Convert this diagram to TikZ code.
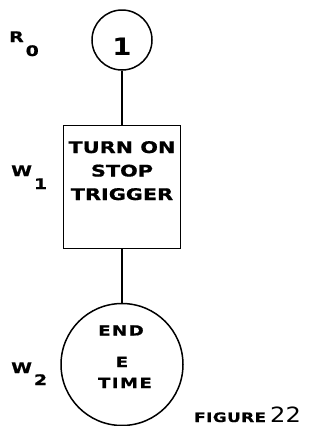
\documentclass[tikz,border=0pt]{standalone}
\usepackage{fontspec}
\newfontfamily\ext{DejaVu Sans}[FakeStretch=1.3,BoldFeatures={FakeBold=0.8}]
\newfontfamily\numfont{DejaVu Sans}[FakeStretch=1.15]
\tikzset{
  conn/.style={line width=1.5pt},
  shapebox/.style={draw,line width=1.5pt,inner sep=0pt},
  boxtext/.style={anchor=base,inner sep=0pt,font=\ext\bfseries\fontsize{16}{18}\selectfont},
  circtext/.style={anchor=base,inner sep=0pt,font=\ext\bfseries\fontsize{14}{16}\selectfont\addfontfeature{LetterSpace=10}},
  lbl/.style={anchor=base west,inner sep=0pt,font=\ext\bfseries\fontsize{14.5}{16}\selectfont},
}
\begin{document}
\begin{tikzpicture}[x=1pt,y=-1pt]
\useasboundingbox (0,0) rectangle (331,426);
% nodes
\node[shapebox,circle,minimum size=60pt] (start) at (122,40) {};
\node[anchor=base,inner sep=0pt,font=\numfont\bfseries\fontsize{24}{26}\selectfont] (one) at (122,55) {1};
\node[shapebox,rectangle,minimum width=117pt,minimum height=123pt] (box) at (122,187) {};
\node[boxtext] (t1) at (122,153) {TURN ON};
\node[boxtext] (t2) at (122,176.5) {STOP};
\node[boxtext] (t3) at (122,200) {TRIGGER};
\node[shapebox,circle,minimum size=122pt] (endc) at (122,364.5) {};
\node[circtext] (e1) at (121,335.5) {END};
\node[circtext] (e2) at (122,367) {E};
\node[circtext] (e3) at (125,388) {TIME};
% connectors
\draw[conn] (start.south) -- (box.north);
\draw[conn] (box.south) -- (endc.north);
% row labels
\node[lbl] (r0) at (9,42) {R\hspace{2pt}\raisebox{-14pt}{0}};
\node[lbl] (w1) at (11,176) {W\hspace{2pt}\raisebox{-13pt}{1}};
\node[lbl] (w2) at (11,373) {W\hspace{2pt}\raisebox{-12pt}{2}};
% caption
\node[lbl,text depth=0pt,font=\ext\bfseries\fontsize{13}{14}\selectfont\addfontfeature{LetterSpace=3}] (fig) at (194,422) {FIGURE};
\node[anchor=base west,inner sep=0pt,text depth=0pt,font=\numfont\fontsize{21}{22}\selectfont] (num) at (270,422) {22};
\end{tikzpicture}
\end{document}
